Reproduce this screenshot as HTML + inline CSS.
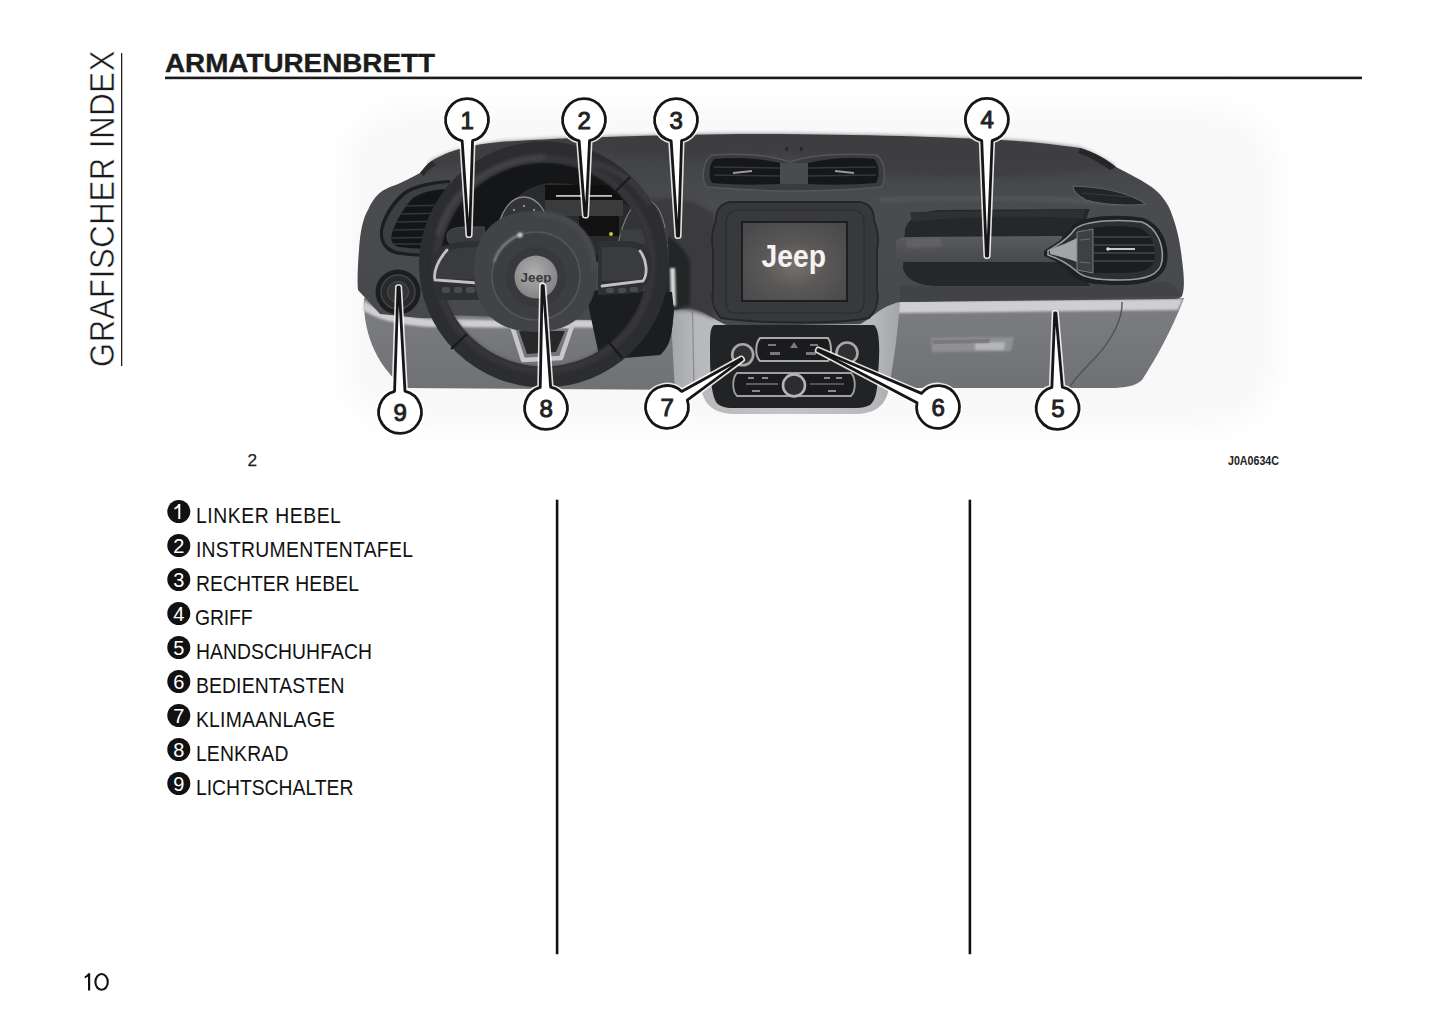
<!DOCTYPE html>
<html><head><meta charset="utf-8">
<style>
html,body{margin:0;padding:0;background:#fff;width:1445px;height:1019px;overflow:hidden}
svg{display:block}
text{font-family:"Liberation Sans",sans-serif}
</style></head><body>
<svg width="1445" height="1019" viewBox="0 0 1445 1019">
<rect width="1445" height="1019" fill="#fff"/>
<!-- side vertical title -->
<text transform="translate(114.3,367) rotate(-90) scale(0.88,1)" font-size="35.2" fill="#1a1a1a" stroke="#fff" stroke-width="0.55" textLength="359.5">GRAFISCHER INDEX</text>
<rect x="121" y="53" width="1.3" height="313" fill="#222"/>
<!-- title -->
<text x="165" y="72.4" font-size="25.8" font-weight="bold" fill="#1c1c1c" stroke="#1c1c1c" stroke-width="0.35" textLength="270" lengthAdjust="spacingAndGlyphs">ARMATURENBRETT</text>
<rect x="165" y="76.6" width="1197" height="2.6" fill="#1a1a1a"/>

<g id="dash"><defs>
<filter id="bl1" x="-20%" y="-20%" width="140%" height="140%"><feGaussianBlur stdDeviation="0.8"/></filter>
<filter id="bl2" x="-20%" y="-20%" width="140%" height="140%"><feGaussianBlur stdDeviation="2"/></filter>
<filter id="bl12" x="-30%" y="-30%" width="160%" height="160%"><feGaussianBlur stdDeviation="14"/></filter>
<filter id="bl4" x="-30%" y="-30%" width="160%" height="160%"><feGaussianBlur stdDeviation="4"/></filter>
<radialGradient id="scr" cx="0.5" cy="0.55" r="0.65"><stop offset="0" stop-color="#77716b"/><stop offset="0.45" stop-color="#5a5857"/><stop offset="1" stop-color="#4a4a4c"/></radialGradient>
<radialGradient id="emb" cx="0.45" cy="0.4" r="0.6"><stop offset="0" stop-color="#b0b0b0"/><stop offset="1" stop-color="#838385"/></radialGradient>
<linearGradient id="lowp" x1="0" y1="0" x2="0" y2="1"><stop offset="0" stop-color="#7d7e82"/><stop offset="1" stop-color="#707175"/></linearGradient>
<linearGradient id="surr" x1="0" y1="0" x2="1" y2="0"><stop offset="0" stop-color="#a4a5a9"/><stop offset="0.12" stop-color="#b8b9bc"/><stop offset="0.5" stop-color="#c4c4c6"/><stop offset="0.88" stop-color="#b8b9bc"/><stop offset="1" stop-color="#a4a5a9"/></linearGradient>
<linearGradient id="bodyg" x1="0" y1="0" x2="0" y2="1"><stop offset="0" stop-color="#3e3f42"/><stop offset="0.3" stop-color="#4a4b4e"/><stop offset="1" stop-color="#47484b"/></linearGradient>
<linearGradient id="handg" x1="0" y1="0" x2="0" y2="1"><stop offset="0" stop-color="#5a5b5e"/><stop offset="1" stop-color="#48494c"/></linearGradient>
</defs>
<!-- halo -->
<rect x="345" y="110" width="930" height="315" rx="60" fill="#f8f8f8" filter="url(#bl12)"/>
<!-- lower panel left -->
<path d="M364,298 C363,335 378,368 405,388 L700,390 L700,305 Z" fill="url(#lowp)"/>
<path d="M364,300 C372,308 392,316 430,319 L700,321 L700,328 L430,327 C395,325 374,318 363,310 Z" fill="#cfcfd2" filter="url(#bl1)"/>
<!-- glove box -->
<path d="M895,300 L1184,298 C1172,330 1155,360 1142,380 C1136,386 1125,388 1110,388 L890,388 Z" fill="url(#lowp)"/>
<path d="M898,301 L1183,299 L1178,310 L898,313 Z" fill="#cfcfd2" filter="url(#bl1)"/>
<path d="M1122,302 C1123,318 1112,340 1095,358 C1085,368 1075,378 1069,388" fill="none" stroke="#4e4f52" stroke-width="1.3"/>
<path d="M931,338 L1014,337 L1011,351 L932,352 Z" fill="#8f9094" filter="url(#bl1)"/>
<path d="M975,343 L1005,342 L1004,350 L975,350 Z" fill="#b5b6b9" filter="url(#bl1)"/>
<path d="M932,340 L990,339 L989,343 L933,344 Z" fill="#6a6b6f" opacity="0.6"/>
<!-- console surround lighter -->
<path d="M670,306 L900,302 C898,330 893,370 888,392 C884,408 872,414 855,414 L735,414 C718,414 706,408 702,392 L675,390 C673,360 672,330 670,306 Z" fill="url(#surr)"/>
<line x1="692.5" y1="312" x2="694" y2="390" stroke="#8d8e92" stroke-width="1.3"/>
<!-- dark body -->
<path d="M358,290 C357,280 358,262 359,250 C360,232 363,218 368,210 C373,198 380,191 390,187 C400,184 410,178 420,173 C424,168 427,164 430,162 C436,158 446,153 456,150 C470,146 480,144 500,142 C560,138 650,135 740,134 C850,134 950,137 1000,140 C1040,142 1065,146 1080,148 C1095,154 1108,162 1116,167 C1130,174 1145,182 1153,188 C1162,195 1168,204 1171,212 C1176,225 1180,240 1182,260 C1184,275 1185,288 1182,296 C1180,299 1175,299 1170,299 L900,302 C880,306 870,320 860,324 L730,326 C715,322 705,310 690,308 L674,310 C672,330 672,345 660,355 L625,356 L600,320 L420,318 L380,314 Z" fill="url(#bodyg)"/>
<!-- top pad slightly darker -->
<path d="M430,162 C446,153 470,146 500,142 C560,138 650,135 740,134 C850,134 950,137 1000,140 C1040,142 1065,146 1080,148 C1095,154 1108,162 1116,167 C1080,172 1040,176 1000,178 L880,176 C820,150 740,148 700,160 C640,155 560,150 500,158 C470,162 445,166 430,170 Z" fill="#3d3e41" opacity="0.7" filter="url(#bl2)"/>
<!-- cowl bumps -->
<path d="M1080,148 C1095,152 1108,160 1116,167 L1110,170 C1100,163 1090,157 1078,153 Z" fill="#252628"/>
<path d="M420,173 C424,168 427,164 432,161 L436,165 C430,168 426,172 424,176 Z" fill="#2a2b2d"/>
<!-- body lower lip right -->
<path d="M900,286 C1000,284 1100,283 1170,282 C1176,288 1180,293 1182,296 L900,302 Z" fill="#424346"/>
<!-- left vent -->
<path d="M450,180 C430,181 413,185 403,192 C391,202 382,217 380,230 C379,242 384,251 395,254 C410,257 430,257 450,257 Z" fill="#1c1d1f"/>
<path d="M450,183 C431,184 415,188 405,195 C394,205 385,219 383,231 C382,241 387,248 397,251 C411,254 431,254 450,254 Z" fill="#3d3e41"/>
<path d="M450,189 C435,189 422,192 413,198 C404,207 396,221 392,233 C390,241 393,246 400,247 C415,249 432,249 450,249 Z" fill="#141516"/>
<g stroke="#36373a" stroke-width="1.5">
<line x1="406" y1="206" x2="450" y2="205"/><line x1="401" y1="214" x2="450" y2="213"/><line x1="397" y1="222" x2="450" y2="221"/><line x1="394" y1="230" x2="450" y2="229"/><line x1="392" y1="238" x2="450" y2="237"/><line x1="393" y1="244" x2="450" y2="244"/>
</g>
<!-- light switch -->
<circle cx="398" cy="292" r="22.5" fill="#1c1d1e"/>
<circle cx="398" cy="292" r="17" fill="#28292b" stroke="#434446" stroke-width="1.5"/>
<circle cx="398" cy="292" r="10.5" fill="#333436" stroke="#4c4d4f" stroke-width="1"/>
<path d="M650,200 C670,195 700,200 714,215 L714,318 C700,312 690,308 674,310 L660,300 Z" fill="#3a3b3e" filter="url(#bl2)"/>
<path d="M664,235 C676,240 686,250 690,262 L690,305 C684,307 678,308 672,310 L664,300 Z" fill="#242527" filter="url(#bl1)"/>
<path d="M670,268 L675,268 L676,306 L671,306 Z" fill="#d8d8d8" filter="url(#bl1)"/>
<!-- cluster hood interior -->
<path d="M440,240 C450,190 500,163 545,161 C595,160 640,185 662,225 L664,262 L640,262 L450,262 Z" fill="#151617"/>
<path d="M492,236 C500,205 525,186 548,183 C585,182 620,195 645,220 L648,255 L492,255 Z" fill="#2a2b2d"/>
<rect x="545" y="185" width="76" height="15" fill="#0f0f10"/>
<rect x="556" y="195" width="56" height="1.8" fill="#e0e0e0" opacity="0.85"/>
<rect x="545" y="200" width="78" height="16" fill="#3a3b3d"/>
<rect x="579" y="216" width="40" height="20" fill="#111112"/>
<circle cx="611" cy="234" r="2" fill="#c9c23a"/>
<path d="M498,236 C498,214 510,197 524,197 C538,197 550,214 550,236 Z" fill="#333436" stroke="#8a8a8c" stroke-width="1.3"/>
<g fill="#8a8a8c"><circle cx="514" cy="210" r="1.2"/><circle cx="524" cy="206" r="1.2"/><circle cx="534" cy="210" r="1.2"/></g>
<path d="M617,262 C617,232 630,200 645,200 C660,200 668,225 668,262 Z" fill="#333436" stroke="#7a7a7c" stroke-width="1.2"/>
<!-- lever 1 -->
<path d="M447,236 C447,229 455,227 470,227 L484,227 L485,244 L455,245 C449,245 447,241 447,236 Z" fill="#3a3b3e" stroke="#505154" stroke-width="1"/>
<path d="M620,230 L668,228 L668,244 L622,244 Z" fill="#3e3f42"/>
<!-- inside wheel lower: knee area and panel -->
<path d="M585,290 L672,292 L674,310 C672,330 672,345 660,355 L600,360 Z" fill="#1c1d1e"/>
<path d="M445,315 L525,318 L525,370 L475,362 C460,350 450,335 445,315 Z" fill="url(#lowp)"/>
<path d="M445,319 L525,321 L525,328 L447,327 Z" fill="#cfcfd2" filter="url(#bl1)"/>
<!-- steering wheel ring -->
<ellipse cx="544" cy="264.5" rx="114.5" ry="112.5" fill="none" stroke="#2c2d2f" stroke-width="21"/>
<ellipse cx="544" cy="264.5" rx="108" ry="106" fill="none" stroke="#38393c" stroke-width="6" filter="url(#bl2)"/>
<path d="M438,235 C450,190 490,160 545,157" fill="none" stroke="#48494c" stroke-width="4" filter="url(#bl2)"/>
<path d="M590,162 C620,170 640,185 650,205" fill="none" stroke="#404144" stroke-width="4" filter="url(#bl2)"/>
<line x1="613" y1="194" x2="630" y2="177" stroke="#18191a" stroke-width="2.2"/>
<line x1="467" y1="334" x2="451" y2="349" stroke="#18191a" stroke-width="2.2"/>
<line x1="608" y1="341" x2="622" y2="358" stroke="#18191a" stroke-width="2.2"/>
<!-- spokes -->
<path d="M432,258 C436,246 450,241 480,241 L482,300 L440,300 C433,290 430,272 432,258 Z" fill="#2f3032"/>
<path d="M438,262 C442,252 452,247 478,247 L478,279 L438,280 C435,274 435,268 438,262 Z" fill="#3a3b3e"/>
<path d="M447,250 C438,260 433,272 435,280 L478,283" fill="none" stroke="#c2c2c4" stroke-width="2.8" stroke-linecap="round"/>
<g fill="#4a4b4e"><rect x="442" y="287" width="8" height="6" rx="2"/><rect x="454" y="287" width="8" height="6" rx="2"/><rect x="466" y="287" width="9" height="6" rx="2"/></g>
<path d="M598,241 L630,241 C645,243 652,250 652,262 C652,276 648,285 640,293 L598,295 Z" fill="#2f3032"/>
<path d="M602,247 L630,247 C641,249 645,255 645,264 C645,272 643,278 638,280 L602,281 Z" fill="#3a3b3e"/>
<path d="M640,251 C647,260 648,274 643,281 L602,286" fill="none" stroke="#c2c2c4" stroke-width="2.8" stroke-linecap="round"/>
<g fill="#4a4b4e"><rect x="606" y="288" width="8" height="5" rx="2"/><rect x="618" y="288" width="8" height="5" rx="2"/><rect x="630" y="287" width="8" height="5" rx="2"/></g>
<!-- lower V spoke -->
<path d="M512,326 L572,326 L561,358 L523,360 Z" fill="none" stroke="#c8c8ca" stroke-width="4.5" stroke-linejoin="round"/>
<path d="M519,331 L565,331 L556,352 L527,354 Z" fill="#27282a"/>
<!-- hub -->
<path d="M535,211 C577,211 597,236 597,271 C597,306 577,332 535,332 C494,332 474,308 474,271 C474,234 495,211 535,211 Z" fill="#424346"/>
<path d="M535,214 C575,214 594,237 594,271" fill="none" stroke="#505154" stroke-width="3" filter="url(#bl2)"/>
<circle cx="536" cy="276" r="44" fill="#3d3e41" stroke="#55565a" stroke-width="1.5"/>
<path d="M494,262 C498,248 510,238 522,234" fill="none" stroke="#8a8a8c" stroke-width="2" filter="url(#bl1)"/>
<circle cx="520" cy="235" r="2.5" fill="#d0d0d0" filter="url(#bl1)"/>
<circle cx="536" cy="277" r="30" fill="#38393c"/>
<circle cx="536" cy="277" r="21.5" fill="url(#emb)"/>
<text x="536" y="282" font-size="13.5" font-weight="bold" fill="#3a3a3b" text-anchor="middle">Jeep</text>
<!-- center vents -->
<path d="M712,155 C740,153 770,155 790,162 C810,155 840,153 876,155 C885,160 887,178 881,187 C850,190 820,191 795,191 C770,191 740,190 707,187 C701,180 702,162 712,155 Z" fill="#3a3b3e" stroke="#55565a" stroke-width="1.5"/>
<path d="M714,159 C735,157 760,158 780,163 L780,184 C760,185 735,185 712,183 C708,176 709,165 714,159 Z" fill="#161718"/>
<path d="M808,163 C828,158 852,157 874,159 C879,164 880,176 876,183 C852,185 828,185 808,184 Z" fill="#161718"/>
<g stroke="#36373a" stroke-width="1.3"><line x1="714" y1="167" x2="780" y2="168"/><line x1="714" y1="175" x2="780" y2="176"/><line x1="808" y1="168" x2="876" y2="167"/><line x1="808" y1="176" x2="876" y2="175"/></g>
<line x1="733" y1="173" x2="752" y2="171" stroke="#9a9a9a" stroke-width="2"/>
<line x1="835" y1="171" x2="854" y2="173" stroke="#9a9a9a" stroke-width="2"/>
<rect x="780" y="163" width="28" height="21" fill="#4a4b4e"/>
<g fill="#2a2b2d"><rect x="785" y="147" width="3" height="4"/><rect x="800" y="147" width="3" height="4"/></g>
<!-- screen bezel -->
<path d="M730,202 L860,202 C871,204 874,211 874,220 C878,230 879,240 877,250 L877,290 C879,300 877,310 869,318 C840,324 760,324 721,318 C713,310 711,300 713,290 L713,250 C711,240 712,230 716,220 C716,211 719,204 730,202 Z" fill="#37383b" stroke="#252628" stroke-width="1.8"/>
<path d="M736,210 L854,210 C861,211 864,217 864,224 L864,302 C864,309 860,313 854,313 L736,313 C729,313 726,309 726,302 L726,224 C726,217 729,211 736,210 Z" fill="#38393c" stroke="#2a2b2d" stroke-width="1.2"/>
<rect x="742" y="222" width="105" height="79" fill="url(#scr)" stroke="#1a1b1c" stroke-width="1.8"/>
<text x="793.8" y="266.6" font-size="30.5" font-weight="bold" fill="#f4f4f4" text-anchor="middle" textLength="64.5" lengthAdjust="spacingAndGlyphs">Jeep</text>
<!-- handle recess and handle -->
<path d="M880,200 C950,196 1050,196 1120,204" fill="none" stroke="#5c5d61" stroke-width="3" filter="url(#bl2)"/>
<path d="M905,230 C908,218 920,211 940,210 L1090,209 C1080,230 1080,270 1090,286 L940,286 C918,286 906,280 903,268 Z" fill="#26272a"/>
<path d="M910,212 L1085,210 L1083,218 C1020,216 960,216 912,222 Z" fill="#2f3033"/>
<path d="M896,242 C897,238 903,237 910,237 L1062,236 L1062,262 L910,262 C903,262 897,260 896,256 Z" fill="url(#handg)"/>
<path d="M906,239 L940,238 L942,247 L907,248 Z" fill="#6a6b6e" opacity="0.6" filter="url(#bl1)"/>
<!-- small top vent right -->
<path d="M1073,186 C1100,187 1126,191 1146,204 C1128,206 1104,205 1086,200 C1078,196 1073,191 1073,186 Z" fill="#232426" stroke="#606164" stroke-width="1.2"/>
<g stroke="#3a3b3e" stroke-width="1"><line x1="1082" y1="193" x2="1130" y2="197"/></g>
<!-- right vent -->
<path d="M1044,251 C1054,244 1064,240 1072,226 C1084,215 1120,214 1143,218 C1161,224 1170,244 1167,262 C1164,279 1148,285 1120,285 C1095,285 1080,283 1071,274 C1064,266 1055,260 1044,256 Z" fill="#1f2022"/>
<path d="M1048,251 C1056,245 1066,242 1075,229 C1086,220 1120,219 1142,222 C1157,228 1164,245 1162,261 C1160,275 1146,280 1120,280 C1096,280 1083,278 1075,270 C1067,263 1057,258 1048,255 Z" fill="#2e2f32" stroke="#9a9a9d" stroke-width="1.6"/>
<path d="M1050,250 C1057,246 1066,244 1077,238 L1077,262 C1066,258 1057,256 1050,254 Z" fill="#a3a4a7"/>
<path d="M1082,231 C1092,226 1120,225 1140,228 C1151,233 1157,247 1154,262 C1151,270 1140,273 1120,273 L1084,273 Z" fill="#1c1d1e"/>
<g stroke="#45464a" stroke-width="1.4"><line x1="1094" y1="237" x2="1150" y2="237"/><line x1="1094" y1="245" x2="1155" y2="245"/><line x1="1094" y1="253" x2="1155" y2="253"/><line x1="1094" y1="261" x2="1154" y2="261"/></g>
<line x1="1108" y1="249" x2="1135" y2="249" stroke="#c8c8c8" stroke-width="2"/>
<circle cx="1108" cy="249" r="1.8" fill="#e0e0e0"/>
<path d="M1077,232 L1093,229 L1093,273 L1077,270 Z" fill="#3f4044" stroke="#7c7c80" stroke-width="1"/>
<g stroke="#6a6b6e" stroke-width="1"><line x1="1080" y1="240" x2="1090" y2="239"/><line x1="1080" y1="262" x2="1090" y2="263"/></g>
<!-- console -->
<path d="M714,325 L874,325 C880,330 880,350 878,375 C877,392 876,400 870,405 C866,407 862,408 856,408 L733,408 C725,408 719,406 716,402 C711,392 710,375 710,350 C710,335 710,328 714,325 Z" fill="#222325"/>
<path d="M760,338 L828,338 C832,344 832,356 828,361 L760,361 C755,356 755,344 760,338 Z" fill="#1a1b1c" stroke="#a9a9ab" stroke-width="2"/>
<g fill="#7a7a7c"><rect x="768" y="344" width="8" height="2"/><rect x="810" y="344" width="8" height="2"/><rect x="770" y="352" width="10" height="3"/><rect x="806" y="352" width="10" height="3"/><path d="M790,348 L794,342 L798,348 Z"/></g>
<circle cx="742.7" cy="354.8" r="10.5" fill="#2f3032" stroke="#a8a8aa" stroke-width="2.6"/>
<circle cx="847" cy="353" r="10.5" fill="#2f3032" stroke="#a8a8aa" stroke-width="2.6"/>
<path d="M737,373 L851,373 C856,378 856,391 851,396 L737,396 C732,391 732,378 737,373 Z" fill="#1a1b1c" stroke="#a0a0a2" stroke-width="1.8"/>
<circle cx="794" cy="385.4" r="11" fill="#2c2d2f" stroke="#b5b5b7" stroke-width="2.6"/>
<g stroke="#8a8a8c" stroke-width="1.2"><line x1="746" y1="384" x2="778" y2="384"/><line x1="810" y1="384" x2="844" y2="384"/></g>
<g fill="#8a8a8c"><rect x="748" y="377" width="6" height="2"/><rect x="762" y="377" width="6" height="2"/><rect x="824" y="377" width="6" height="2"/><rect x="836" y="377" width="6" height="2"/><rect x="752" y="390" width="8" height="2"/><rect x="828" y="390" width="8" height="2"/></g>

<g><path d="M462.16,140.85 L468.40,235.01 L469.60,234.99 L472.56,140.67 A21.4,21.4 0 1 0 462.16,140.85 Z" fill="none" stroke="#fff" stroke-width="6" stroke-linejoin="round" opacity="0.85"/><path d="M462.16,140.85 L468.40,235.01 L469.60,234.99 L472.56,140.67 A21.4,21.4 0 1 0 462.16,140.85 Z" fill="#fff" stroke="#161616" stroke-width="2.8" stroke-linejoin="round"/><text x="467.3" y="128.6" font-size="24" text-anchor="middle" fill="#222" stroke="#222" stroke-width="1.0">1</text><path d="M579.13,140.84 L584.90,215.61 L586.10,215.59 L589.53,140.67 A21.4,21.4 0 1 0 579.13,140.84 Z" fill="none" stroke="#fff" stroke-width="6" stroke-linejoin="round" opacity="0.85"/><path d="M579.13,140.84 L584.90,215.61 L586.10,215.59 L589.53,140.67 A21.4,21.4 0 1 0 579.13,140.84 Z" fill="#fff" stroke="#161616" stroke-width="2.8" stroke-linejoin="round"/><text x="584.3" y="128.6" font-size="24" text-anchor="middle" fill="#222" stroke="#222" stroke-width="1.0">2</text><path d="M671.16,140.85 L677.40,236.01 L678.60,235.99 L681.56,140.67 A21.4,21.4 0 1 0 671.16,140.85 Z" fill="none" stroke="#fff" stroke-width="6" stroke-linejoin="round" opacity="0.85"/><path d="M671.16,140.85 L677.40,236.01 L678.60,235.99 L681.56,140.67 A21.4,21.4 0 1 0 671.16,140.85 Z" fill="#fff" stroke="#161616" stroke-width="2.8" stroke-linejoin="round"/><text x="676.3" y="128.6" font-size="24" text-anchor="middle" fill="#222" stroke="#222" stroke-width="1.0">3</text><path d="M981.72,140.56 L986.40,256.00 L987.60,256.00 L992.12,140.55 A21.4,21.4 0 1 0 981.72,140.56 Z" fill="none" stroke="#fff" stroke-width="6" stroke-linejoin="round" opacity="0.85"/><path d="M981.72,140.56 L986.40,256.00 L987.60,256.00 L992.12,140.55 A21.4,21.4 0 1 0 981.72,140.56 Z" fill="#fff" stroke="#161616" stroke-width="2.8" stroke-linejoin="round"/><text x="987.2" y="128.4" font-size="24" text-anchor="middle" fill="#222" stroke="#222" stroke-width="1.0">4</text><path d="M1062.30,387.12 L1055.90,312.99 L1054.70,313.01 L1051.90,387.37 A21.4,21.4 0 1 0 1062.30,387.12 Z" fill="none" stroke="#fff" stroke-width="6" stroke-linejoin="round" opacity="0.85"/><path d="M1062.30,387.12 L1055.90,312.99 L1054.70,313.01 L1051.90,387.37 A21.4,21.4 0 1 0 1062.30,387.12 Z" fill="#fff" stroke="#161616" stroke-width="2.8" stroke-linejoin="round"/><text x="1057.9" y="416.6" font-size="24" text-anchor="middle" fill="#222" stroke="#222" stroke-width="1.0">5</text><path d="M921.48,393.40 L818.26,349.46 L817.74,350.54 L917.02,402.79 A21.4,21.4 0 1 0 921.48,393.40 Z" fill="none" stroke="#fff" stroke-width="6" stroke-linejoin="round" opacity="0.85"/><path d="M921.48,393.40 L818.26,349.46 L817.74,350.54 L917.02,402.79 A21.4,21.4 0 1 0 921.48,393.40 Z" fill="#fff" stroke="#161616" stroke-width="2.8" stroke-linejoin="round"/><text x="938.3" y="415.6" font-size="24" text-anchor="middle" fill="#222" stroke="#222" stroke-width="1.0">6</text><path d="M687.28,400.17 L742.12,359.50 L741.48,358.50 L681.66,391.41 A21.4,21.4 0 1 0 687.28,400.17 Z" fill="none" stroke="#fff" stroke-width="6" stroke-linejoin="round" opacity="0.85"/><path d="M687.28,400.17 L742.12,359.50 L741.48,358.50 L681.66,391.41 A21.4,21.4 0 1 0 687.28,400.17 Z" fill="#fff" stroke="#161616" stroke-width="2.8" stroke-linejoin="round"/><text x="667.3" y="415.6" font-size="24" text-anchor="middle" fill="#222" stroke="#222" stroke-width="1.0">7</text><path d="M550.64,387.11 L543.30,285.58 L542.10,285.62 L540.24,387.39 A21.4,21.4 0 1 0 550.64,387.11 Z" fill="none" stroke="#fff" stroke-width="6" stroke-linejoin="round" opacity="0.85"/><path d="M550.64,387.11 L543.30,285.58 L542.10,285.62 L540.24,387.39 A21.4,21.4 0 1 0 550.64,387.11 Z" fill="#fff" stroke="#161616" stroke-width="2.8" stroke-linejoin="round"/><text x="546.3" y="416.6" font-size="24" text-anchor="middle" fill="#222" stroke="#222" stroke-width="1.0">8</text><path d="M404.97,391.18 L399.20,287.19 L398.00,287.21 L394.57,391.30 A21.4,21.4 0 1 0 404.97,391.18 Z" fill="none" stroke="#fff" stroke-width="6" stroke-linejoin="round" opacity="0.85"/><path d="M404.97,391.18 L399.20,287.19 L398.00,287.21 L394.57,391.30 A21.4,21.4 0 1 0 404.97,391.18 Z" fill="#fff" stroke="#161616" stroke-width="2.8" stroke-linejoin="round"/><text x="400.3" y="420.6" font-size="24" text-anchor="middle" fill="#222" stroke="#222" stroke-width="1.0">9</text></g></g><!--/dash-->

<text x="247.6" y="466" font-size="17.2" fill="#222" stroke="#222" stroke-width="0.25">2</text>
<text x="1228" y="465.4" font-size="12.5" font-weight="bold" fill="#222" textLength="51" lengthAdjust="spacingAndGlyphs">J0A0634C</text>

<!-- list -->
<g fill="#111">
<circle cx="178.8" cy="511.5" r="11.5"/>
<circle cx="178.8" cy="545.5" r="11.5"/>
<circle cx="178.8" cy="579.5" r="11.5"/>
<circle cx="178.8" cy="613.5" r="11.5"/>
<circle cx="178.8" cy="647.5" r="11.5"/>
<circle cx="178.8" cy="681.5" r="11.5"/>
<circle cx="178.8" cy="715.5" r="11.5"/>
<circle cx="178.8" cy="749.5" r="11.5"/>
<circle cx="178.8" cy="783.5" r="11.5"/>
</g>
<g fill="#fff" font-size="20" text-anchor="middle">
<path d="M178.3,504 L180.3,504 L180.3,519 L178.3,519 L178.3,507.6 C177.3,508.6 175.8,509.2 174.4,509.4 L174.4,507.6 C176.2,507.2 177.5,505.9 178.3,504 Z"/>
<text x="178.8" y="552.8">2</text>
<text x="178.8" y="586.8">3</text>
<text x="178.8" y="620.8">4</text>
<text x="178.8" y="654.8">5</text>
<text x="178.8" y="688.8">6</text>
<text x="178.8" y="722.8">7</text>
<text x="178.8" y="756.8">8</text>
<text x="178.8" y="790.8">9</text>
</g>
<g fill="#111" font-size="21.5">
<text transform="translate(195.9,523.2) scale(0.9,1)" textLength="161.1">LINKER HEBEL</text>
<text transform="translate(195.9,557.1) scale(0.9,1)" textLength="241.1">INSTRUMENTENTAFEL</text>
<text transform="translate(195.9,591.0) scale(0.9,1)" textLength="181.1">RECHTER HEBEL</text>
<text transform="translate(195.1,625.0) scale(0.9,1)" textLength="63.9">GRIFF</text>
<text transform="translate(195.9,659.0) scale(0.9,1)" textLength="195.6">HANDSCHUHFACH</text>
<text transform="translate(195.9,693.0) scale(0.9,1)" textLength="165.0">BEDIENTASTEN</text>
<text transform="translate(195.9,727.3) scale(0.9,1)" textLength="154.4">KLIMAANLAGE</text>
<text transform="translate(195.9,761.0) scale(0.9,1)" textLength="102.8">LENKRAD</text>
<text transform="translate(195.9,795.3) scale(0.9,1)" textLength="175.0">LICHTSCHALTER</text>
</g>
<rect x="555.8" y="499.7" width="2.6" height="454.5" fill="#111"/>
<rect x="968.6" y="499.7" width="2.6" height="454.5" fill="#111"/>
<path d="M88,973.2 L90.2,973.2 L90.2,990.6 L88,990.6 L88,976.6 C86.9,977.6 85.8,978 84.7,978.2 L84.7,976.2 C86.3,975.8 87.4,974.6 88,973.2 Z" fill="#111"/><ellipse cx="101.6" cy="981.9" rx="6.2" ry="7.9" fill="none" stroke="#111" stroke-width="2.1"/>
</svg>
</body></html>
